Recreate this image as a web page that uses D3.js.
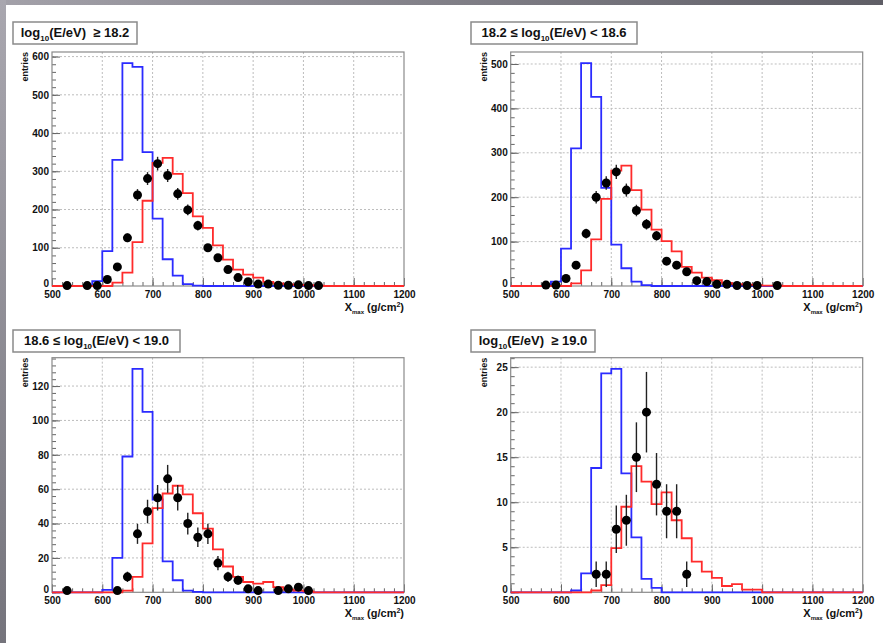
<!DOCTYPE html>
<html>
<head>
<meta charset="utf-8">
<script src="https://cdn.jsdelivr.net/npm/d3@7"></script>
<style>
  body { margin: 0; background: #fff; }
  svg { display: block; font-family: "Liberation Sans", Arial, sans-serif; }
</style>
</head>
<body>
<svg id="chart" width="883" height="643"></svg>
<script>
// Xmax axis (g/cm2), histograms use 20 g/cm2 bins
const xTicks = [500, 600, 700, 800, 900, 1000, 1100, 1200];
const binWidth = 20;

// panel 1 : log10(E/eV) >= 18.2
const blue1Start = 580;
const blue1 = [13, 91, 330, 583, 573, 350, 176, 70, 27, 5, 1];
const red1Start = 620;
const red1 = [9, 35, 115, 223, 322, 335, 293, 243, 182, 152, 106, 69, 43, 30, 22, 11, 7, 4, 3, 2, 1];
const data1X = [530, 570, 590, 610, 630, 650, 670, 690, 710, 730, 750, 770, 790, 810, 830, 850, 870, 890, 910, 930, 950, 970, 990, 1010, 1030];
const data1Y = [1, 1, 1, 17, 50, 126, 238, 281, 320, 289, 241, 199, 158, 100, 74, 43, 22, 11, 5, 5, 2, 2, 3, 1, 1];
const yTicks1 = [0, 100, 200, 300, 400, 500, 600];

// panel 2 : 18.2 <= log10(E/eV) < 18.6
const blue2Start = 580;
const blue2 = [10, 84, 310, 502, 426, 221, 93, 40, 10, 2];
const red2Start = 620;
const red2 = [6, 35, 105, 196, 260, 271, 216, 172, 127, 101, 78, 43, 30, 19, 13, 7, 4, 3, 2, 1, 1];
const data2X = [570, 590, 610, 630, 650, 670, 690, 710, 730, 750, 770, 790, 810, 830, 850, 870, 890, 910, 930, 950, 970, 990, 1030];
const data2Y = [2, 2, 17, 47, 118, 200, 232, 257, 216, 170, 139, 113, 56, 47, 32, 12, 10, 4, 4, 1, 1, 1, 1];
const yTicks2 = [0, 100, 200, 300, 400, 500];

// panel 3 : 18.6 <= log10(E/eV) < 19.0
const blue3Start = 600;
const blue3 = [1.4, 20, 79, 130, 105, 54, 18, 7, 1, 0.3];
const red3Start = 640;
const red3 = [1, 9, 28.5, 49, 57.5, 62, 57, 46, 37, 25, 15, 9, 6, 5, 6, 3, 1.5, 1, 0.5];
const data3X = [530, 630, 650, 670, 690, 710, 730, 750, 770, 790, 810, 830, 850, 870, 890, 910, 950, 970, 990, 1010];
const data3Y = [1, 1, 9, 34, 47, 55, 66, 55, 40, 32, 34, 17, 9, 7, 2, 1, 1, 2, 3, 1];
const yTicks3 = [0, 20, 40, 60, 80, 100, 120];

// panel 4 : log10(E/eV) >= 19.0
const blue4Start = 620;
const blue4 = [0.2, 2.1, 13.8, 24.3, 24.8, 13.2, 6.1, 1.5, 0.5];
const red4Start = 660;
const red4 = [0.2, 0.8, 4.9, 9.5, 14, 12.3, 9.8, 11.1, 8, 6, 3.4, 2.3, 1.6, 0.7, 0.9, 0.3, 0.3];
const data4X = [670, 690, 710, 730, 750, 770, 790, 810, 830, 850];
const data4Y = [2, 2, 7, 8, 15, 20, 12, 9, 9, 2];
const yTicks4 = [0, 5, 10, 15, 20, 25];

const panels = [
  { left: 52, top: 52, bottom: 286, yMax: 612, yTicks: yTicks1, yMinor: 20,
    title: ["", "(E/eV)  \u2265 18.2"], box: [13, 22, 124],
    blue: [blue1Start, blue1], red: [red1Start, red1], px: data1X, py: data1Y },
  { left: 510.7, top: 52, bottom: 286, yMax: 527, yTicks: yTicks2, yMinor: 20,
    title: ["18.2 \u2264 ", "(E/eV) < 18.6"], box: [471, 22, 166],
    blue: [blue2Start, blue2], red: [red2Start, red2], px: data2X, py: data2Y },
  { left: 52, top: 357.7, bottom: 592.3, yMax: 136.5, yTicks: yTicks3, yMinor: 4,
    title: ["18.6 \u2264 ", "(E/eV) < 19.0"], box: [13, 330, 167],
    blue: [blue3Start, blue3], red: [red3Start, red3], px: data3X, py: data3Y },
  { left: 510.7, top: 357.7, bottom: 592.3, yMax: 26.05, yTicks: yTicks4, yMinor: 1,
    title: ["", "(E/eV)  \u2265 19.0"], box: [471, 330, 124],
    blue: [blue4Start, blue4], red: [red4Start, red4], px: data4X, py: data4Y }
];

const svg = d3.select("#chart");

// slide background edges
const defs = svg.append("defs");
const gTop = defs.append("linearGradient").attr("id", "gTop");
gTop.append("stop").attr("offset", "0%").attr("stop-color", "#a3a1a9");
gTop.append("stop").attr("offset", "100%").attr("stop-color", "#5f5e66");
const gLeft = defs.append("linearGradient").attr("id", "gLeft")
  .attr("x1", 0).attr("y1", 0).attr("x2", 0).attr("y2", 1);
gLeft.append("stop").attr("offset", "0%").attr("stop-color", "#a9a7af");
gLeft.append("stop").attr("offset", "100%").attr("stop-color", "#75747c");
svg.append("rect").attr("x", 0).attr("y", 0).attr("width", 883).attr("height", 5).attr("fill", "url(#gTop)");
svg.append("rect").attr("x", 0).attr("y", 0).attr("width", 6).attr("height", 643).attr("fill", "url(#gLeft)");

function histPoints(start, vals) {
  const pts = [];
  for (let b = 500; b < 1200; b += binWidth) {
    const i = Math.round((b - start) / binWidth);
    const v = (i >= 0 && i < vals.length) ? vals[i] : 0;
    pts.push([b, v], [b + binWidth, v]);
  }
  return pts;
}

function drawPanel(p) {
  const g = svg.append("g");
  const x = d3.scaleLinear().domain([500, 1200]).range([p.left, p.left + 352]);
  const y = d3.scaleLinear().domain([0, p.yMax]).range([p.bottom, p.top]);

  // dashed grid
  g.append("g").selectAll("line").data(xTicks.slice(1, -1)).join("line")
    .attr("x1", d => x(d)).attr("x2", d => x(d))
    .attr("y1", p.top).attr("y2", p.bottom)
    .attr("stroke", "#bdbdbd").attr("stroke-dasharray", "2,2");
  g.append("g").selectAll("line").data(p.yTicks.slice(1)).join("line")
    .attr("x1", x(500)).attr("x2", x(1200))
    .attr("y1", d => y(d)).attr("y2", d => y(d))
    .attr("stroke", "#bdbdbd").attr("stroke-dasharray", "2,2");

  // axes, ticks pointing inside the frame
  const yMinor = d3.range(0, p.yMax, p.yMinor);
  const xMinor = d3.range(500, 1200, binWidth);
  const yAx = g.append("g").attr("transform", `translate(${p.left},0)`)
    .call(d3.axisLeft(y).tickValues(p.yTicks).tickFormat(d3.format("d"))
      .tickSizeInner(-8).tickSizeOuter(0).tickPadding(3));
  g.append("g").attr("transform", `translate(${p.left},0)`)
    .call(d3.axisLeft(y).tickValues(yMinor).tickFormat("").tickSizeInner(-4).tickSizeOuter(0));
  g.append("g").attr("transform", `translate(0,${p.bottom})`)
    .call(d3.axisBottom(x).tickValues(xTicks).tickFormat(d3.format("d"))
      .tickSizeInner(-8).tickSizeOuter(0).tickPadding(5));
  g.append("g").attr("transform", `translate(0,${p.bottom})`)
    .call(d3.axisBottom(x).tickValues(xMinor).tickFormat("").tickSizeInner(-4).tickSizeOuter(0));
  g.selectAll(".domain").remove();
  g.selectAll(".tick line").attr("stroke", "#666");
  g.selectAll(".tick text").attr("font-family", null).attr("font-size", 10)
    .attr("font-weight", "bold").attr("fill", "#111");
  // lift the zero label a little so it clears the x labels
  yAx.selectAll(".tick text").filter(d => d === 0).attr("y", -3);

  // frame
  g.append("rect").attr("x", x(500)).attr("y", p.top)
    .attr("width", x(1200) - x(500)).attr("height", p.bottom - p.top)
    .attr("fill", "none").attr("stroke", "#8a8a8a").attr("stroke-width", 1.2);

  // histograms: blue then red on top
  const line = d3.line().x(d => x(d[0])).y(d => y(d[1]));
  g.append("path").attr("d", line(histPoints(p.blue[0], p.blue[1])))
    .attr("fill", "none").attr("stroke", "#2b2bff").attr("stroke-width", 1.8);
  g.append("path").attr("d", line(histPoints(p.red[0], p.red[1])))
    .attr("fill", "none").attr("stroke", "#ff2b2b").attr("stroke-width", 1.8);

  // data points with poisson error bars
  const pts = p.px.map((v, i) => ({ x: v, n: p.py[i] }));
  g.append("g").selectAll("line").data(pts).join("line")
    .attr("x1", d => x(d.x)).attr("x2", d => x(d.x))
    .attr("y1", d => y(Math.max(0, d.n - Math.sqrt(d.n))))
    .attr("y2", d => y(d.n + Math.sqrt(d.n)))
    .attr("stroke", "#222").attr("stroke-width", 1.4);
  g.append("g").selectAll("circle").data(pts).join("circle")
    .attr("cx", d => x(d.x)).attr("cy", d => y(d.n)).attr("r", 4.5)
    .attr("fill", "#000");

  // axis titles
  g.append("text")
    .attr("transform", `translate(${p.left - 24},${p.top}) rotate(-90)`)
    .attr("text-anchor", "end").attr("font-size", 9).attr("font-weight", "bold")
    .attr("fill", "#111").text("entries");
  const xl = g.append("text").attr("x", x(1200)).attr("y", p.bottom + 25)
    .attr("text-anchor", "end").attr("font-size", 11).attr("font-weight", "bold").attr("fill", "#111");
  xl.append("tspan").text("X");
  xl.append("tspan").attr("font-size", 6).attr("dy", 3).text("max");
  xl.append("tspan").attr("dy", -3).text("\u00a0(g/cm");
  xl.append("tspan").attr("font-size", 7).attr("dy", -4).text("2");
  xl.append("tspan").attr("dy", 4).text(")");

  // title box
  const [bx, by, bw] = p.box;
  g.append("rect").attr("x", bx).attr("y", by).attr("width", bw).attr("height", 22)
    .attr("fill", "#fff").attr("stroke", "#8a8a8a").attr("stroke-width", 1.5);
  const tt = g.append("text").attr("x", bx + bw / 2).attr("y", by + 15)
    .attr("text-anchor", "middle").attr("font-size", 13).attr("font-weight", "bold")
    .attr("fill", "#111").style("white-space", "pre");
  tt.append("tspan").text(p.title[0] + "log");
  tt.append("tspan").attr("font-size", 8).attr("dy", 4).text("10");
  tt.append("tspan").attr("dy", -4).text(p.title[1]);
}

panels.forEach(drawPanel);
</script>
</body>
</html>
